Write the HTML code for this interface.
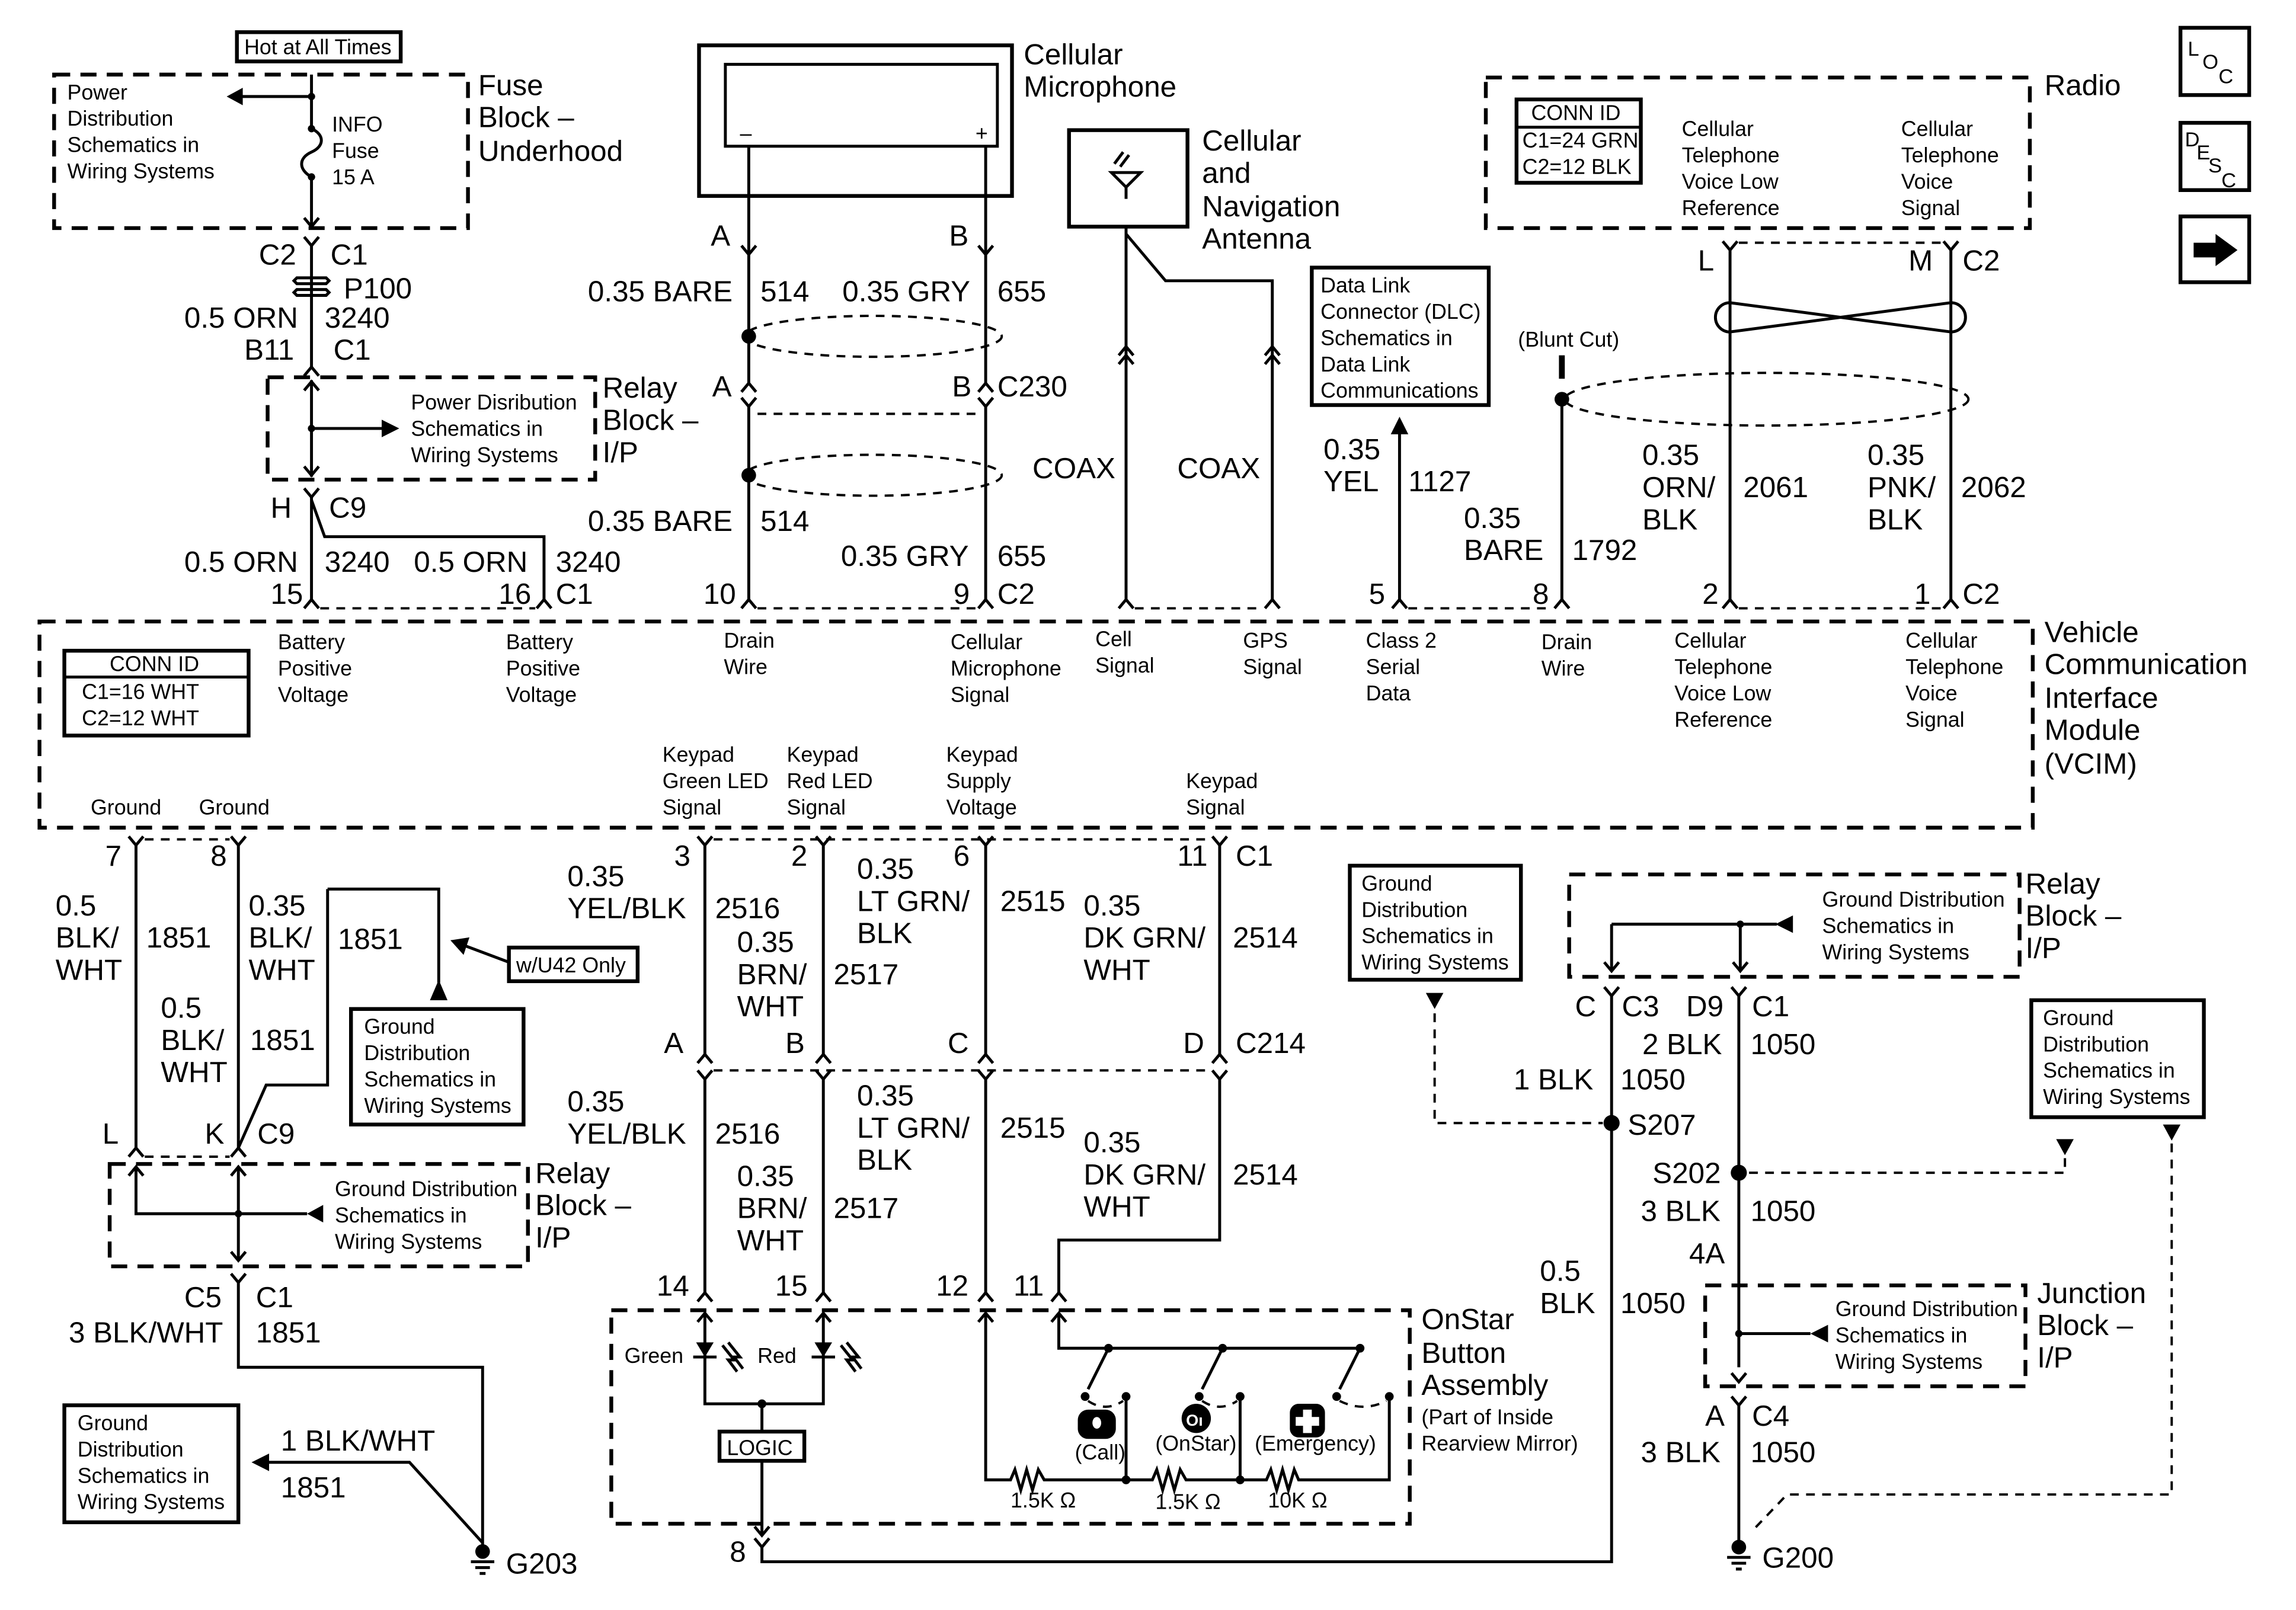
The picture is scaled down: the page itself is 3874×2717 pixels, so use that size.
<!DOCTYPE html>
<html><head><meta charset="utf-8"><style>
html,body{margin:0;padding:0;background:#fff;}
svg{display:block;}
text{font-family:"Liberation Sans Narrow","Liberation Sans",sans-serif;fill:#000;}
.L{font-size:20px;}
.S{font-size:14.5px;}
.w{stroke:#000;stroke-width:2;fill:none;}
.d{stroke:#000;stroke-width:2.6;fill:none;stroke-dasharray:11 7;}
.t{stroke:#000;stroke-width:1.6;fill:none;stroke-dasharray:6 5;}
.b{stroke:#000;stroke-width:2.6;fill:#fff;}
</style></head><body>
<svg width="3874" height="2717" viewBox="0 0 1570 1101" preserveAspectRatio="none" xmlns="http://www.w3.org/2000/svg">
<defs>
<path id="m" d="M-5,6 L0,0 L5,6" stroke="#000" stroke-width="2" fill="none"/>
<path id="f" d="M-5,-6 L0,0 L5,-6" stroke="#000" stroke-width="2" fill="none"/>
</defs>
<rect width="1570" height="1101" fill="#fff"/>

<!-- top-left fuse block -->
<rect x="162" y="22" width="112" height="20" class="b"/>
<text x="167" y="37" class="S">Hot at All Times</text>
<rect x="37" y="51" width="283" height="105" class="d"/>
<text class="S"><tspan x="46" y="68">Power</tspan><tspan x="46" y="86">Distribution</tspan><tspan x="46" y="104">Schematics in</tspan><tspan x="46" y="122">Wiring Systems</tspan></text>
<path class="w" d="M213,51 V88 M213,66 H162 M213,121 V155"/>
<path d="M155,66 L166,60 L166,72 Z"/>
<circle cx="213" cy="66" r="2.5"/><circle cx="213" cy="88" r="2.5"/><circle cx="213" cy="121" r="2.5"/>
<path class="w" d="M213,88 C222,92 222,100 213,104 C204,108 204,116 213,121"/>
<use href="#f" x="213" y="155"/>
<text class="S"><tspan x="227" y="90">INFO</tspan><tspan x="227" y="108">Fuse</tspan><tspan x="227" y="126">15 A</tspan></text>
<text class="L"><tspan x="327" y="65">Fuse</tspan><tspan x="327" y="87">Block –</tspan><tspan x="327" y="110">Underhood</tspan></text>

<use href="#f" x="213" y="168"/>
<path class="w" d="M213,168 V251"/>
<text x="177" y="181" class="L">C2</text><text x="226" y="181" class="L">C1</text>
<path class="w" d="M203,190 H223 L225,192 L223,194 H203 L201,192 Z M203,198 H223 L225,200 L223,202 H203 L201,200 Z" fill="#fff"/>
<text x="235" y="204" class="L">P100</text>
<text x="126" y="224" class="L">0.5 ORN</text><text x="222" y="224" class="L">3240</text>
<text x="167" y="246" class="L">B11</text><text x="228" y="246" class="L">C1</text>
<use href="#m" x="213" y="251"/>

<rect x="183" y="258" width="224" height="70" class="d"/>
<path class="w" d="M213,260 V326 M213,293 H262"/>
<use href="#m" x="213" y="261"/><use href="#f" x="213" y="325"/>
<circle cx="213" cy="293" r="2.5"/><path d="M273,293 L261,287 L261,299 Z"/>
<text class="S"><tspan x="281" y="280">Power Disribution</tspan><tspan x="281" y="298">Schematics in</tspan><tspan x="281" y="316">Wiring Systems</tspan></text>
<text class="L"><tspan x="412" y="272">Relay</tspan><tspan x="412" y="294">Block –</tspan><tspan x="412" y="316">I/P</tspan></text>

<use href="#f" x="213" y="340"/>
<path class="w" d="M213,340 V410 M213,342 L222,367 H372 V410"/>
<text x="185" y="354" class="L">H</text><text x="225" y="354" class="L">C9</text>
<text x="126" y="391" class="L">0.5 ORN</text><text x="222" y="391" class="L">3240</text>
<text x="283" y="391" class="L">0.5 ORN</text><text x="380" y="391" class="L">3240</text>
<text x="185" y="413" class="L">15</text><text x="341" y="413" class="L">16</text><text x="380" y="413" class="L">C1</text>
<use href="#m" x="213" y="410"/><use href="#m" x="372" y="410"/>
<path class="t" d="M219,416 H366"/>

<!-- cellular microphone -->
<rect x="478" y="31" width="214" height="103" class="b" fill="none"/>
<rect x="496" y="44" width="186" height="56" class="w"/>
<text x="506" y="96" class="S">–</text><text x="667" y="96" class="S">+</text>
<text class="L"><tspan x="700" y="44">Cellular</tspan><tspan x="700" y="66">Microphone</tspan></text>
<path class="w" d="M512,100 V174 M674,100 V174"/>
<use href="#f" x="512" y="174"/><use href="#f" x="674" y="174"/>
<text x="486" y="168" class="L">A</text><text x="649" y="168" class="L">B</text>
<path class="w" d="M512,174 V262 M674,174 V262"/>
<text x="402" y="206" class="L">0.35 BARE</text><text x="520" y="206" class="L">514</text>
<text x="576" y="206" class="L">0.35 GRY</text><text x="682" y="206" class="L">655</text>
<circle cx="512" cy="230" r="5"/>
<ellipse cx="597" cy="230" rx="88" ry="14" class="t"/>
<use href="#m" x="512" y="262"/><use href="#m" x="674" y="262"/>
<text x="487" y="271" class="L">A</text><text x="651" y="271" class="L">B</text><text x="682" y="271" class="L">C230</text>
<path class="t" d="M518,283 H668"/>
<use href="#f" x="512" y="278"/><use href="#f" x="674" y="278"/>
<path class="w" d="M512,278 V410 M674,278 V410"/>
<circle cx="512" cy="325" r="5"/>
<ellipse cx="597" cy="325" rx="88" ry="14" class="t"/>
<text x="402" y="363" class="L">0.35 BARE</text><text x="520" y="363" class="L">514</text>
<text x="575" y="387" class="L">0.35 GRY</text><text x="682" y="387" class="L">655</text>
<text x="481" y="413" class="L">10</text><text x="652" y="413" class="L">9</text><text x="682" y="413" class="L">C2</text>
<use href="#m" x="512" y="410"/><use href="#m" x="674" y="410"/>
<path class="t" d="M518,416 H668"/>

<!-- antenna -->
<rect x="731" y="89" width="81" height="66" class="b" fill="none"/>
<path class="w" d="M760,118 H780 L770,128 Z M770,128 V136"/>
<path class="w" d="M762,112 L768,104 M766,114 L772,106" stroke-width="1.4"/>
<text class="L"><tspan x="822" y="103">Cellular</tspan><tspan x="822" y="125">and</tspan><tspan x="822" y="148">Navigation</tspan><tspan x="822" y="170">Antenna</tspan></text>
<path class="w" d="M770,155 V410 M770,160 L797,192 H870 V410"/>
<use href="#m" x="770" y="237"/><use href="#m" x="770" y="243"/>
<use href="#m" x="870" y="237"/><use href="#m" x="870" y="243"/>
<text x="706" y="327" class="L">COAX</text><text x="805" y="327" class="L">COAX</text>
<use href="#m" x="770" y="410"/><use href="#m" x="870" y="410"/>
<path class="t" d="M776,416 H864"/>

<!-- DLC -->
<rect x="897" y="183" width="121" height="94" class="b" fill="none"/>
<text class="S"><tspan x="903" y="200">Data Link</tspan><tspan x="903" y="218">Connector (DLC)</tspan><tspan x="903" y="236">Schematics in</tspan><tspan x="903" y="254">Data Link</tspan><tspan x="903" y="272">Communications</tspan></text>
<path class="w" d="M957,296 V410"/><path d="M957,285 L951,297 L963,297 Z"/>
<text class="L"><tspan x="905" y="314">0.35</tspan><tspan x="905" y="336">YEL</tspan></text><text x="963" y="336" class="L">1127</text>
<text x="936" y="413" class="L">5</text>
<use href="#m" x="957" y="410"/>

<text x="1038" y="237" class="S">(Blunt Cut)</text>
<path d="M1066,243 H1070 V259 H1066 Z"/>
<circle cx="1068" cy="273" r="5"/>
<ellipse cx="1208" cy="273" rx="138" ry="18" class="t"/>
<path class="w" d="M1068,273 V410"/>
<text class="L"><tspan x="1001" y="361">0.35</tspan><tspan x="1001" y="383">BARE</tspan></text><text x="1075" y="383" class="L">1792</text>
<text x="1048" y="413" class="L">8</text>
<use href="#m" x="1068" y="410"/>
<path class="t" d="M963,416 H1062"/>

<!-- radio -->
<rect x="1016" y="53" width="372" height="103" class="d"/>
<rect x="1037" y="68" width="85" height="57" class="b" fill="none"/>
<path class="w" d="M1037,87 H1122"/>
<text class="S"><tspan x="1047" y="82">CONN ID</tspan><tspan x="1041" y="101">C1=24 GRN</tspan><tspan x="1041" y="119">C2=12 BLK</tspan></text>
<text class="S"><tspan x="1150" y="93">Cellular</tspan><tspan x="1150" y="111">Telephone</tspan><tspan x="1150" y="129">Voice Low</tspan><tspan x="1150" y="147">Reference</tspan></text>
<text class="S"><tspan x="1300" y="93">Cellular</tspan><tspan x="1300" y="111">Telephone</tspan><tspan x="1300" y="129">Voice</tspan><tspan x="1300" y="147">Signal</tspan></text>
<text x="1398" y="65" class="L">Radio</text>
<use href="#f" x="1183" y="171"/><use href="#f" x="1334" y="171"/>
<path class="t" d="M1189,166 H1328"/>
<text x="1161" y="185" class="L">L</text><text x="1305" y="185" class="L">M</text><text x="1342" y="185" class="L">C2</text>
<path class="w" d="M1183,171 V410 M1334,171 V410"/>
<path class="w" d="M1183,207 L1334,227 A10,10 0 0 0 1334,207 L1183,227 A10,10 0 0 1 1183,207 Z"/>
<text class="L"><tspan x="1123" y="318">0.35</tspan><tspan x="1123" y="340">ORN/</tspan><tspan x="1123" y="362">BLK</tspan></text><text x="1192" y="340" class="L">2061</text>
<text class="L"><tspan x="1277" y="318">0.35</tspan><tspan x="1277" y="340">PNK/</tspan><tspan x="1277" y="362">BLK</tspan></text><text x="1341" y="340" class="L">2062</text>
<text x="1164" y="413" class="L">2</text><text x="1309" y="413" class="L">1</text><text x="1342" y="413" class="L">C2</text>
<use href="#m" x="1183" y="410"/><use href="#m" x="1334" y="410"/>
<path class="t" d="M1189,416 H1328"/>

<!-- top right icons -->
<rect x="1491" y="19" width="47" height="46" class="b"/>
<text x="1496" y="38" style="font-size:14px">L</text><text x="1506" y="47" style="font-size:14px">O</text><text x="1517" y="57" style="font-size:14px">C</text>
<rect x="1491" y="84" width="47" height="46" class="b"/>
<text x="1494" y="100" style="font-size:14px">D</text><text x="1502" y="109" style="font-size:14px">E</text><text x="1510" y="118" style="font-size:14px">S</text><text x="1519" y="128" style="font-size:14px">C</text>
<rect x="1491" y="148" width="47" height="45" class="b"/>
<path d="M1500,166 H1515 V160 L1530,171 L1515,182 V176 H1500 Z"/>

<!-- VCIM -->
<rect x="27" y="425" width="1363" height="141" class="d"/>
<rect x="44" y="445" width="126" height="58" class="b" fill="none"/>
<path class="w" d="M44,463 H170"/>
<text class="S"><tspan x="75" y="459">CONN ID</tspan><tspan x="56" y="478">C1=16 WHT</tspan><tspan x="56" y="496">C2=12 WHT</tspan></text>
<text class="S"><tspan x="190" y="444">Battery</tspan><tspan x="190" y="462">Positive</tspan><tspan x="190" y="480">Voltage</tspan></text>
<text class="S"><tspan x="346" y="444">Battery</tspan><tspan x="346" y="462">Positive</tspan><tspan x="346" y="480">Voltage</tspan></text>
<text class="S"><tspan x="495" y="443">Drain</tspan><tspan x="495" y="461">Wire</tspan></text>
<text class="S"><tspan x="650" y="444">Cellular</tspan><tspan x="650" y="462">Microphone</tspan><tspan x="650" y="480">Signal</tspan></text>
<text class="S"><tspan x="749" y="442">Cell</tspan><tspan x="749" y="460">Signal</tspan></text>
<text class="S"><tspan x="850" y="443">GPS</tspan><tspan x="850" y="461">Signal</tspan></text>
<text class="S"><tspan x="934" y="443">Class 2</tspan><tspan x="934" y="461">Serial</tspan><tspan x="934" y="479">Data</tspan></text>
<text class="S"><tspan x="1054" y="444">Drain</tspan><tspan x="1054" y="462">Wire</tspan></text>
<text class="S"><tspan x="1145" y="443">Cellular</tspan><tspan x="1145" y="461">Telephone</tspan><tspan x="1145" y="479">Voice Low</tspan><tspan x="1145" y="497">Reference</tspan></text>
<text class="S"><tspan x="1303" y="443">Cellular</tspan><tspan x="1303" y="461">Telephone</tspan><tspan x="1303" y="479">Voice</tspan><tspan x="1303" y="497">Signal</tspan></text>
<text class="L"><tspan x="1398" y="439">Vehicle</tspan><tspan x="1398" y="461">Communication</tspan><tspan x="1398" y="484">Interface</tspan><tspan x="1398" y="506">Module</tspan><tspan x="1398" y="529">(VCIM)</tspan></text>
<text x="62" y="557" class="S">Ground</text><text x="136" y="557" class="S">Ground</text>
<text class="S"><tspan x="453" y="521">Keypad</tspan><tspan x="453" y="539">Green LED</tspan><tspan x="453" y="557">Signal</tspan></text>
<text class="S"><tspan x="538" y="521">Keypad</tspan><tspan x="538" y="539">Red LED</tspan><tspan x="538" y="557">Signal</tspan></text>
<text class="S"><tspan x="647" y="521">Keypad</tspan><tspan x="647" y="539">Supply</tspan><tspan x="647" y="557">Voltage</tspan></text>
<text class="S"><tspan x="811" y="539">Keypad</tspan><tspan x="811" y="557">Signal</tspan></text>

<!-- lower pin row -->
<path class="t" d="M99,574 H157 M488,574 H828"/>
<use href="#f" x="93" y="578"/><use href="#f" x="163" y="578"/><use href="#f" x="482" y="578"/><use href="#f" x="563" y="578"/><use href="#f" x="674" y="578"/><use href="#f" x="834" y="578"/>
<text x="72" y="592" class="L">7</text><text x="144" y="592" class="L">8</text><text x="461" y="592" class="L">3</text><text x="541" y="592" class="L">2</text><text x="652" y="592" class="L">6</text><text x="805" y="592" class="L">11</text><text x="845" y="592" class="L">C1</text>

<!-- left grounds -->
<path class="w" d="M93,578 V785 M163,578 V785 M224,608 H300 V672 M224,608 V742 H182 L163,785"/>
<path d="M300,670 L294,684 L306,684 Z"/>
<rect x="348" y="648" width="88" height="23" class="b"/>
<text x="353" y="665" class="S">w/U42 Only</text>
<path class="w" d="M348,658 L316,646"/><path d="M308,643 L321,641 L317,653 Z"/>
<rect x="240" y="690" width="118" height="79" class="b"/>
<text class="S"><tspan x="249" y="707">Ground</tspan><tspan x="249" y="725">Distribution</tspan><tspan x="249" y="743">Schematics in</tspan><tspan x="249" y="761">Wiring Systems</tspan></text>
<text class="L"><tspan x="38" y="626">0.5</tspan><tspan x="38" y="648">BLK/</tspan><tspan x="38" y="670">WHT</tspan></text><text x="100" y="648" class="L">1851</text>
<text class="L"><tspan x="170" y="626">0.35</tspan><tspan x="170" y="648">BLK/</tspan><tspan x="170" y="670">WHT</tspan></text><text x="231" y="649" class="L">1851</text>
<text class="L"><tspan x="110" y="696">0.5</tspan><tspan x="110" y="718">BLK/</tspan><tspan x="110" y="740">WHT</tspan></text><text x="171" y="718" class="L">1851</text>
<text x="70" y="782" class="L">L</text><text x="140" y="782" class="L">K</text><text x="176" y="782" class="L">C9</text>
<use href="#m" x="93" y="785"/><use href="#m" x="163" y="785"/>
<path class="t" d="M99,791 H157"/>
<rect x="75" y="796" width="286" height="70" class="d"/>
<use href="#m" x="93" y="798"/><use href="#m" x="163" y="798"/>
<path class="w" d="M93,798 V830 H210 M163,798 V862"/>
<circle cx="163" cy="830" r="2.5"/><path d="M210,830 L221,824 L221,836 Z"/>
<use href="#f" x="163" y="862"/>
<text class="S"><tspan x="229" y="818">Ground Distribution</tspan><tspan x="229" y="836">Schematics in</tspan><tspan x="229" y="854">Wiring Systems</tspan></text>
<text class="L"><tspan x="366" y="809">Relay</tspan><tspan x="366" y="831">Block –</tspan><tspan x="366" y="853">I/P</tspan></text>
<use href="#f" x="163" y="877"/>
<text x="126" y="894" class="L">C5</text><text x="175" y="894" class="L">C1</text>
<text x="47" y="918" class="L">3 BLK/WHT</text><text x="175" y="918" class="L">1851</text>
<path class="w" d="M163,877 V935 H330 V1058 M184,1000 H280 L330,1055"/>
<path d="M172,1000 L184,994 L184,1006 Z"/>
<rect x="44" y="961" width="119" height="80" class="b"/>
<text class="S"><tspan x="53" y="978">Ground</tspan><tspan x="53" y="996">Distribution</tspan><tspan x="53" y="1014">Schematics in</tspan><tspan x="53" y="1032">Wiring Systems</tspan></text>
<text x="192" y="992" class="L">1 BLK/WHT</text><text x="192" y="1024" class="L">1851</text>
<circle cx="330" cy="1061" r="5"/>
<path class="w" d="M322,1068 H338 M325,1072 H335 M328,1076 H332" stroke-width="1.6"/>
<text x="346" y="1076" class="L">G203</text>

<!-- keypad wires -->
<path class="w" d="M482,578 V721 M563,578 V721 M674,578 V721 M834,578 V721"/>
<text class="L"><tspan x="388" y="606">0.35</tspan><tspan x="388" y="628">YEL/BLK</tspan></text><text x="489" y="628" class="L">2516</text>
<text class="L"><tspan x="504" y="651">0.35</tspan><tspan x="504" y="673">BRN/</tspan><tspan x="504" y="695">WHT</tspan></text><text x="570" y="673" class="L">2517</text>
<text class="L"><tspan x="586" y="601">0.35</tspan><tspan x="586" y="623">LT GRN/</tspan><tspan x="586" y="645">BLK</tspan></text><text x="684" y="623" class="L">2515</text>
<text class="L"><tspan x="741" y="626">0.35</tspan><tspan x="741" y="648">DK GRN/</tspan><tspan x="741" y="670">WHT</tspan></text><text x="843" y="648" class="L">2514</text>
<use href="#m" x="482" y="721"/><use href="#m" x="563" y="721"/><use href="#m" x="674" y="721"/><use href="#m" x="834" y="721"/>
<text x="454" y="720" class="L">A</text><text x="537" y="720" class="L">B</text><text x="648" y="720" class="L">C</text><text x="809" y="720" class="L">D</text><text x="845" y="720" class="L">C214</text>
<path class="t" d="M488,732 H828"/>
<use href="#f" x="482" y="738"/><use href="#f" x="563" y="738"/><use href="#f" x="674" y="738"/><use href="#f" x="834" y="738"/>
<path class="w" d="M482,738 V884 M563,738 V884 M674,738 V884 M834,738 V848 H724 V884"/>
<text class="L"><tspan x="388" y="760">0.35</tspan><tspan x="388" y="782">YEL/BLK</tspan></text><text x="489" y="782" class="L">2516</text>
<text class="L"><tspan x="504" y="811">0.35</tspan><tspan x="504" y="833">BRN/</tspan><tspan x="504" y="855">WHT</tspan></text><text x="570" y="833" class="L">2517</text>
<text class="L"><tspan x="586" y="756">0.35</tspan><tspan x="586" y="778">LT GRN/</tspan><tspan x="586" y="800">BLK</tspan></text><text x="684" y="778" class="L">2515</text>
<text class="L"><tspan x="741" y="788">0.35</tspan><tspan x="741" y="810">DK GRN/</tspan><tspan x="741" y="832">WHT</tspan></text><text x="843" y="810" class="L">2514</text>
<text x="449" y="886" class="L">14</text><text x="530" y="886" class="L">15</text><text x="640" y="886" class="L">12</text><text x="693" y="886" class="L">11</text>
<use href="#m" x="482" y="884"/><use href="#m" x="563" y="884"/><use href="#m" x="674" y="884"/><use href="#m" x="724" y="884"/>

<!-- OnStar button assembly -->
<rect x="418" y="896" width="546" height="146" class="d"/>
<use href="#m" x="482" y="898"/><use href="#m" x="563" y="898"/><use href="#m" x="674" y="898"/><use href="#m" x="724" y="898"/>
<path class="w" d="M482,898 V960 H563 V898 M521,960 V978 M521,999 V1050"/>
<path d="M476,918 H488 L482,928 Z M557,918 H569 L563,928 Z"/>
<path class="w" d="M474,928 H490 M555,928 H571"/>
<path class="w" d="M494,920 L502,930 L498,930 L504,938 M498,918 L506,928 L502,928 L508,936 M575,920 L583,930 L579,930 L585,938 M579,918 L587,928 L583,928 L589,936" stroke-width="1.2"/>
<circle cx="521" cy="960" r="3"/>
<text x="427" y="932" class="S">Green</text><text x="518" y="932" class="S">Red</text>
<rect x="492" y="979" width="58" height="20" class="b"/>
<text x="497" y="995" class="S">LOGIC</text>
<use href="#f" x="521" y="1050"/>
<use href="#f" x="521" y="1058"/>
<text x="499" y="1068" class="L">8</text>
<path class="w" d="M521,1058 V1068 H1102 V768"/>
<path class="w" d="M674,898 V1012 H691 L694,1005 L698,1019 L702,1005 L706,1019 L710,1005 L714,1012 H770 M724,898 V922 H930"/>
<path class="w" d="M770,1012 H788 L791,1005 L795,1019 L799,1005 L803,1019 L807,1005 L811,1012 H848 H866 L869,1005 L873,1019 L877,1005 L881,1019 L885,1005 L888,1012 H950 V955 M770,1012 V955 M848,1012 V955"/>
<circle cx="758" cy="922" r="3"/><circle cx="836" cy="922" r="3"/><circle cx="930" cy="922" r="3"/>
<path class="w" d="M758,922 L744,950 M836,922 L822,950 M930,922 L916,950"/>
<circle cx="742" cy="955" r="3"/><circle cx="770" cy="955" r="3"/><circle cx="820" cy="955" r="3"/><circle cx="848" cy="955" r="3"/><circle cx="914" cy="955" r="3"/><circle cx="950" cy="955" r="3"/>
<path class="t" d="M744,958 Q756,966 768,958 M822,958 Q834,966 846,958 M916,958 Q932,966 948,958" stroke-width="1.3" stroke-dasharray="3 3"/>
<circle cx="770" cy="1012" r="3"/><circle cx="848" cy="1012" r="3"/>
<rect x="737" y="964" width="26" height="20" rx="7"/><ellipse cx="750" cy="973" rx="3" ry="4" fill="#fff"/>
<circle cx="818" cy="970" r="10"/><text x="811" y="975" style="font-size:11px;fill:#fff;font-weight:bold">Oı</text>
<rect x="882" y="960" width="24" height="23" rx="6"/><path d="M891,964 H897 V969 H902 V975 H897 V980 H891 V975 H886 V969 H891 Z" fill="#fff"/>
<text x="735" y="998" class="S">(Call)</text><text x="790" y="992" class="S">(OnStar)</text><text x="858" y="992" class="S">(Emergency)</text>
<text x="691" y="1031" class="S">1.5K Ω</text><text x="790" y="1032" class="S">1.5K Ω</text><text x="867" y="1031" class="S">10K Ω</text>
<text class="L"><tspan x="972" y="909">OnStar</tspan><tspan x="972" y="932">Button</tspan><tspan x="972" y="954">Assembly</tspan></text>
<text class="S"><tspan x="972" y="974">(Part of Inside</tspan><tspan x="972" y="992">Rearview Mirror)</tspan></text>

<!-- right ground -->
<rect x="923" y="592" width="117" height="78" class="b"/>
<text class="S"><tspan x="931" y="609">Ground</tspan><tspan x="931" y="627">Distribution</tspan><tspan x="931" y="645">Schematics in</tspan><tspan x="931" y="663">Wiring Systems</tspan></text>
<path d="M975,679 L987,679 L981,690 Z"/>
<path class="t" d="M981,693 V768 H1096"/>
<rect x="1073" y="598" width="308" height="70" class="d"/>
<path class="w" d="M1102,632 H1215 M1102,632 V664 M1190,632 V664"/>
<circle cx="1190" cy="632" r="2.5"/><path d="M1214,632 L1226,626 L1226,638 Z"/>
<use href="#f" x="1102" y="664"/><use href="#f" x="1190" y="664"/>
<text class="S"><tspan x="1246" y="620">Ground Distribution</tspan><tspan x="1246" y="638">Schematics in</tspan><tspan x="1246" y="656">Wiring Systems</tspan></text>
<text class="L"><tspan x="1385" y="611">Relay</tspan><tspan x="1385" y="633">Block –</tspan><tspan x="1385" y="655">I/P</tspan></text>
<use href="#f" x="1102" y="681"/><use href="#f" x="1189" y="681"/>
<path class="w" d="M1102,681 V768 M1189,681 V935"/>
<text x="1077" y="695" class="L">C</text><text x="1109" y="695" class="L">C3</text><text x="1153" y="695" class="L">D9</text><text x="1198" y="695" class="L">C1</text>
<text x="1123" y="721" class="L">2 BLK</text><text x="1197" y="721" class="L">1050</text>
<text x="1035" y="745" class="L">1 BLK</text><text x="1108" y="745" class="L">1050</text>
<circle cx="1102" cy="768" r="5.5"/><text x="1113" y="776" class="L">S207</text>
<circle cx="1189" cy="802" r="5.5"/><text x="1130" y="809" class="L">S202</text>
<path class="t" d="M1196,802 H1412 V790"/>
<path d="M1406,779 L1418,779 L1412,790 Z"/>
<rect x="1389" y="684" width="118" height="80" class="b"/>
<text class="S"><tspan x="1397" y="701">Ground</tspan><tspan x="1397" y="719">Distribution</tspan><tspan x="1397" y="737">Schematics in</tspan><tspan x="1397" y="755">Wiring Systems</tspan></text>
<path d="M1479,769 L1491,769 L1485,780 Z"/>
<path class="t" d="M1485,782 V1022 H1222 L1200,1045"/>
<text x="1122" y="835" class="L">3 BLK</text><text x="1197" y="835" class="L">1050</text>
<text x="1155" y="864" class="L">4A</text>
<text class="L"><tspan x="1053" y="876">0.5</tspan><tspan x="1053" y="898">BLK</tspan></text><text x="1108" y="898" class="L">1050</text>
<rect x="1166" y="879" width="219" height="69" class="d"/>
<path class="w" d="M1189,912 H1238"/>
<circle cx="1189" cy="912" r="2.5"/><path d="M1238,912 L1250,906 L1250,918 Z"/>
<use href="#f" x="1189" y="945"/>
<text class="S"><tspan x="1255" y="900">Ground Distribution</tspan><tspan x="1255" y="918">Schematics in</tspan><tspan x="1255" y="936">Wiring Systems</tspan></text>
<text class="L"><tspan x="1393" y="891">Junction</tspan><tspan x="1393" y="913">Block –</tspan><tspan x="1393" y="935">I/P</tspan></text>
<use href="#f" x="1189" y="961"/>
<path class="w" d="M1189,961 V1058"/>
<text x="1166" y="975" class="L">A</text><text x="1198" y="975" class="L">C4</text>
<text x="1122" y="1000" class="L">3 BLK</text><text x="1197" y="1000" class="L">1050</text>
<circle cx="1189" cy="1058" r="5"/>
<path class="w" d="M1181,1065 H1197 M1184,1069 H1194 M1187,1073 H1191" stroke-width="1.6"/>
<text x="1205" y="1072" class="L">G200</text>
</svg>
</body></html>
